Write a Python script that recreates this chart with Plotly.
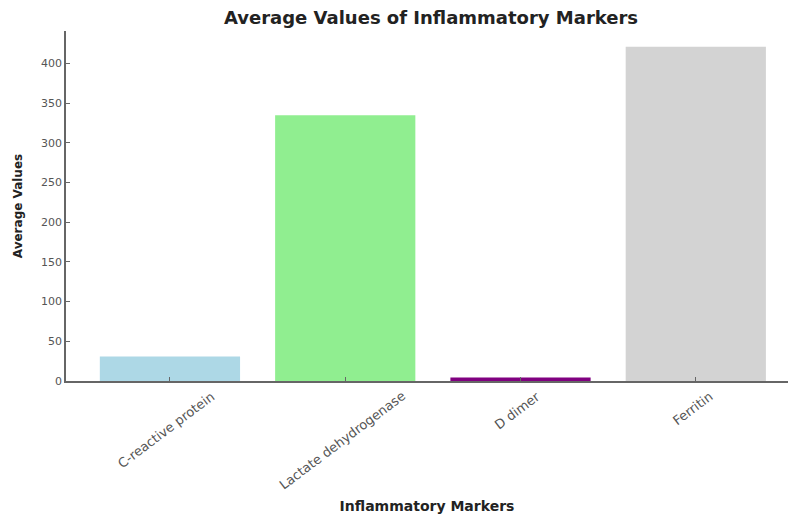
import plotly.graph_objects as go

categories = ["C-reactive protein", "Lactate dehydrogenase", "D dimer", "Ferritin"]
values = [31, 335, 4.5, 421]
colors = ["#ADD8E6", "#90EE90", "#800080", "#D3D3D3"]
y_ticks = [0, 50, 100, 150, 200, 250, 300, 350, 400]

xpos = list(range(len(categories)))

fig = go.Figure(
    go.Bar(
        x=xpos,
        y=values,
        marker=dict(color=colors, line=dict(width=0)),
        width=0.8,
    )
)

# category labels, rotated and centred under each tick (matplotlib-like)
for i, name in zip(xpos, categories):
    fig.add_annotation(
        x=i, xref="x", y=0, yref="paper",
        text=name, showarrow=False,
        textangle=-37, xanchor="center", yanchor="top",
        xshift=-3, yshift=-5,
        font=dict(family="DejaVu Sans", size=13, color="#555555"),
    )

fig.update_layout(
    width=788,
    height=514,
    margin=dict(l=66, r=0, t=31, b=133, autoexpand=False),
    paper_bgcolor="white",
    plot_bgcolor="white",
    font=dict(family="DejaVu Sans", color="#444444"),
    showlegend=False,
    title=dict(
        text="<b>Average Values of Inflammatory Markers</b>",
        x=0.547,
        xanchor="center",
        y=0.965,
        yanchor="middle",
        font=dict(size=18, color="#222222"),
    ),
)

fig.update_xaxes(
    tickmode="array",
    tickvals=xpos,
    showticklabels=False,
    range=[-0.593, 3.526],
    showgrid=False,
    zeroline=False,
    showline=True,
    linecolor="#666666",
    linewidth=1.5,
    ticks="inside",
    ticklen=4,
    tickcolor="#666666",
    title=dict(text="<b>Inflammatory Markers</b>", font=dict(size=14, color="#222222"), standoff=121),
)

fig.update_yaxes(
    tickmode="array",
    tickvals=y_ticks,
    range=[0, 441],
    tickfont=dict(size=11, color="#555555"),
    showgrid=False,
    zeroline=False,
    showline=True,
    linecolor="#666666",
    linewidth=1.5,
    ticks="inside",
    ticklen=4,
    tickcolor="#666666",
    title=dict(text="<b>Average Values</b>", font=dict(size=12, color="#222222"), standoff=16),
)

fig.write_html(
    "out.html",
    config={"displayModeBar": False},
    post_script="document.body.style.margin='0';document.body.style.padding='0';",
)
